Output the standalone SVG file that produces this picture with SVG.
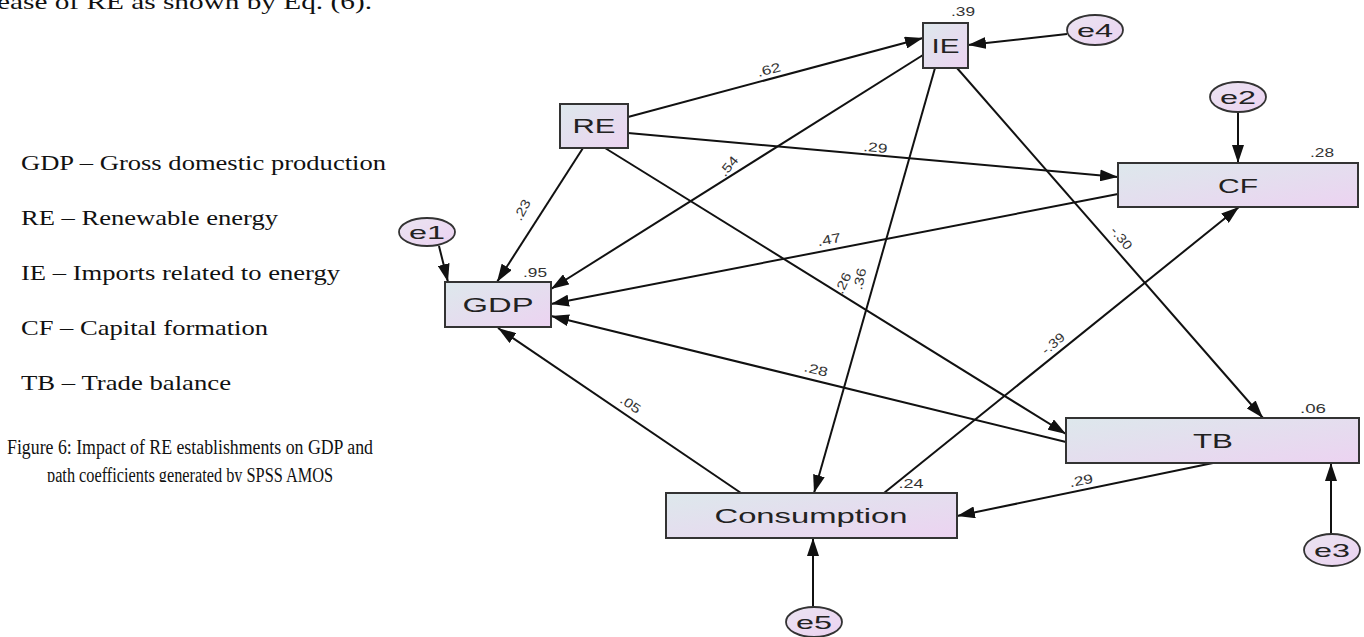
<svg xmlns="http://www.w3.org/2000/svg" width="1364" height="637" viewBox="0 0 1364 637">
<style>
.box{stroke:#333;stroke-width:2;fill:url(#g)}
.err{stroke:#333;stroke-width:1.8;fill:url(#g2)}
.nt{font-family:"Liberation Sans",Arial,sans-serif;font-size:21px;fill:#222;text-anchor:middle}
.et{font-family:"Liberation Sans",Arial,sans-serif;font-size:19px;fill:#222;text-anchor:middle}
.c{font-family:"Liberation Sans",Arial,sans-serif;font-size:13px;fill:#333;text-anchor:middle}
.lg{font-family:"Liberation Serif","Times New Roman",serif;font-size:22px;fill:#111}
.cp{font-family:"Liberation Serif","Times New Roman",serif;font-size:20px;fill:#111}
.ln{stroke:#111;stroke-width:2;fill:none;marker-end:url(#ah)}
</style>
<defs>
<linearGradient id="g" x1="0" y1="0" x2="1" y2="1">
<stop offset="0" stop-color="#dde8ec"/>
<stop offset="1" stop-color="#ecd3f1"/>
</linearGradient>
<linearGradient id="g2" x1="0" y1="0" x2="1" y2="1">
<stop offset="0" stop-color="#ebe4f1"/>
<stop offset="1" stop-color="#ebd2f1"/>
</linearGradient>
<marker id="ah" markerUnits="userSpaceOnUse" markerWidth="18" markerHeight="12" refX="18" refY="6" orient="auto">
<path d="M0,0 L18,6 L0,12 z" fill="#111"/>
</marker>
<clipPath id="cap"><rect x="0" y="0" width="400" height="482"/></clipPath>
</defs>

<g id="page-text">
<text class="lg" x="-3" y="9" textLength="375" lengthAdjust="spacingAndGlyphs">ease of RE as shown by Eq. (6).</text>
<text class="lg" x="21" y="170" textLength="365" lengthAdjust="spacingAndGlyphs">GDP – Gross domestic production</text>
<text class="lg" x="21" y="225" textLength="257" lengthAdjust="spacingAndGlyphs">RE – Renewable energy</text>
<text class="lg" x="21" y="280" textLength="319" lengthAdjust="spacingAndGlyphs">IE – Imports related to energy</text>
<text class="lg" x="21" y="335" textLength="247" lengthAdjust="spacingAndGlyphs">CF – Capital formation</text>
<text class="lg" x="21" y="390" textLength="210" lengthAdjust="spacingAndGlyphs">TB – Trade balance</text>
<text class="cp" x="7" y="454" textLength="366" lengthAdjust="spacingAndGlyphs">Figure 6: Impact of RE establishments on GDP and</text>
<text class="cp" x="47" y="482" textLength="286" lengthAdjust="spacingAndGlyphs" clip-path="url(#cap)">path coefficients generated by SPSS AMOS</text>
</g>

<g id="connectors">
<line class="ln" x1="628" y1="117" x2="923" y2="38"/>
<line class="ln" x1="628" y1="133" x2="1118" y2="177"/>
<line class="ln" x1="583" y1="148" x2="497" y2="282"/>
<line class="ln" x1="605" y1="148" x2="1066" y2="434"/>
<line class="ln" x1="923" y1="55" x2="551" y2="289"/>
<line class="ln" x1="935" y1="68" x2="814" y2="493"/>
<line class="ln" x1="957" y1="68" x2="1263" y2="418"/>
<line class="ln" x1="1067" y1="34" x2="968" y2="45"/>
<line class="ln" x1="1238" y1="112" x2="1238" y2="163"/>
<line class="ln" x1="1118" y1="194" x2="551" y2="304"/>
<line class="ln" x1="439" y1="246" x2="448" y2="282"/>
<line class="ln" x1="1066" y1="442" x2="551" y2="316"/>
<line class="ln" x1="741" y1="493" x2="498" y2="328"/>
<line class="ln" x1="884" y1="493" x2="1239" y2="207"/>
<line class="ln" x1="1213" y1="463" x2="957" y2="516"/>
<line class="ln" x1="1331" y1="534" x2="1331" y2="463"/>
<line class="ln" x1="813" y1="607" x2="813" y2="538"/>
</g>

<g id="coefficients">
<text class="c" transform="translate(770,74) rotate(-15)" textLength="24" lengthAdjust="spacingAndGlyphs">.62</text>
<text class="c" transform="translate(875,152) rotate(5)" textLength="24" lengthAdjust="spacingAndGlyphs">.29</text>
<text class="c" transform="translate(526,212) rotate(-62)" textLength="22" lengthAdjust="spacingAndGlyphs">.23</text>
<text class="c" transform="translate(732,169) rotate(-50)" textLength="22" lengthAdjust="spacingAndGlyphs">.54</text>
<text class="c" transform="translate(847,285) rotate(-65)" textLength="22" lengthAdjust="spacingAndGlyphs">.26</text>
<text class="c" transform="translate(864,280) rotate(-78)" textLength="22" lengthAdjust="spacingAndGlyphs">.36</text>
<text class="c" transform="translate(830,244) rotate(-11)" textLength="24" lengthAdjust="spacingAndGlyphs">.47</text>
<text class="c" transform="translate(1056,347) rotate(-40)" textLength="26" lengthAdjust="spacingAndGlyphs">-.39</text>
<text class="c" transform="translate(815,374) rotate(14)" textLength="24" lengthAdjust="spacingAndGlyphs">.28</text>
<text class="c" transform="translate(628,408) rotate(34)" textLength="22" lengthAdjust="spacingAndGlyphs">.05</text>
<text class="c" transform="translate(1118,241) rotate(50)" textLength="26" lengthAdjust="spacingAndGlyphs">-.30</text>
<text class="c" transform="translate(1082,485) rotate(-11)" textLength="24" lengthAdjust="spacingAndGlyphs">.29</text>
<text class="c" x="963" y="16" textLength="24" lengthAdjust="spacingAndGlyphs">.39</text>
<text class="c" x="1322" y="157" textLength="24" lengthAdjust="spacingAndGlyphs">.28</text>
<text class="c" x="535" y="277" textLength="24" lengthAdjust="spacingAndGlyphs">.95</text>
<text class="c" x="1313" y="413" textLength="26" lengthAdjust="spacingAndGlyphs">.06</text>
<text class="c" x="911" y="488" textLength="25" lengthAdjust="spacingAndGlyphs">.24</text>
</g>

<g id="node-RE"><rect class="box" x="560" y="104" width="68" height="44"/><text class="nt" x="594" y="133" textLength="43" lengthAdjust="spacingAndGlyphs">RE</text></g>
<g id="node-IE"><rect class="box" x="923" y="23" width="45" height="45"/><text class="nt" x="945.5" y="53" textLength="28" lengthAdjust="spacingAndGlyphs">IE</text></g>
<g id="node-CF"><rect class="box" x="1118" y="163" width="240" height="44"/><text class="nt" x="1238" y="193" textLength="40" lengthAdjust="spacingAndGlyphs">CF</text></g>
<g id="node-GDP"><rect class="box" x="445" y="282" width="106" height="45"/><text class="nt" x="498" y="312" textLength="71" lengthAdjust="spacingAndGlyphs">GDP</text></g>
<g id="node-TB"><rect class="box" x="1066" y="418" width="293" height="45"/><text class="nt" x="1213" y="448" textLength="40" lengthAdjust="spacingAndGlyphs">TB</text></g>
<g id="node-Consumption"><rect class="box" x="666" y="493" width="291" height="45"/><text class="nt" x="811" y="523" textLength="193" lengthAdjust="spacingAndGlyphs">Consumption</text></g>

<g id="node-e1"><ellipse class="err" cx="427" cy="232" rx="28" ry="14"/><text class="et" x="427" y="239" textLength="36" lengthAdjust="spacingAndGlyphs">e1</text></g>
<g id="node-e2"><ellipse class="err" cx="1238" cy="97" rx="28" ry="15"/><text class="et" x="1238" y="104" textLength="36" lengthAdjust="spacingAndGlyphs">e2</text></g>
<g id="node-e3"><ellipse class="err" cx="1332" cy="550" rx="28" ry="16"/><text class="et" x="1332" y="557" textLength="36" lengthAdjust="spacingAndGlyphs">e3</text></g>
<g id="node-e4"><ellipse class="err" cx="1095" cy="30" rx="28" ry="15"/><text class="et" x="1095" y="37" textLength="36" lengthAdjust="spacingAndGlyphs">e4</text></g>
<g id="node-e5"><ellipse class="err" cx="814" cy="622" rx="28" ry="15"/><text class="et" x="814" y="629" textLength="36" lengthAdjust="spacingAndGlyphs">e5</text></g>
</svg>
